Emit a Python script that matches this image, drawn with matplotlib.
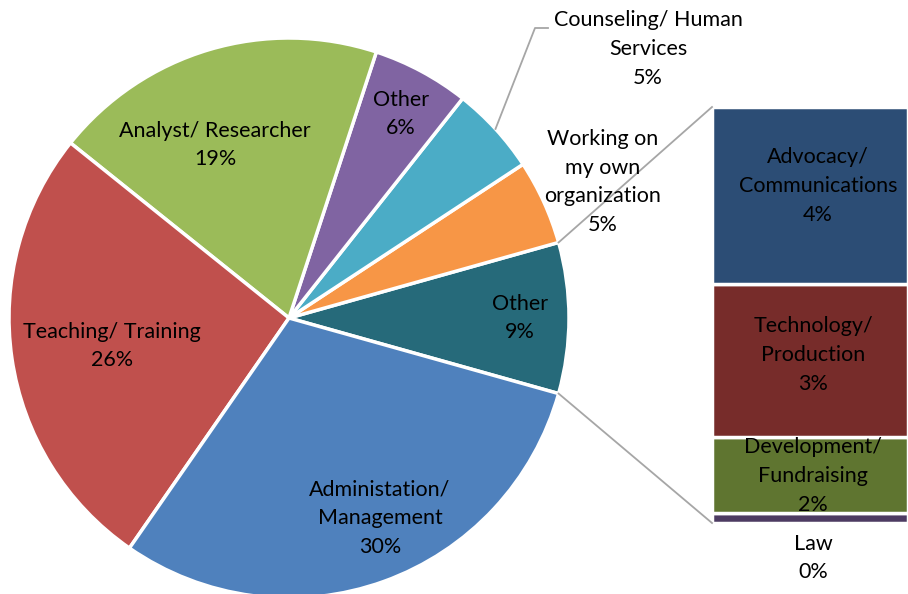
import matplotlib
matplotlib.use("Agg")
import matplotlib.pyplot as plt
import numpy as np

# pie slices, counter-clockwise starting with the aggregated "Other" slice
pie_labels = ["Other", "Working on\nmy own\norganization", "Counseling/ Human\nServices",
              "Other", "Analyst/ Researcher", "Teaching/ Training", "Administation/\nManagement"]
pie_values = [8.7, 4.9, 5.1, 5.6, 19.3, 26.1, 30.3]
pie_colors = ["#266a7a", "#f79646", "#4bacc6", "#8064a2", "#9bbb59", "#c0504d", "#4f81bd"]

# breakdown of the "Other" slice, bottom to top
bar_labels = ["Law", "Development/\nFundraising", "Technology/\nProduction", "Advocacy/\nCommunications"]
bar_values = [0.2, 1.6, 3.2, 3.7]
bar_colors = ["#4d3b62", "#5f7530", "#772c2a", "#2c4d75"]

W, H = 908, 594
cx, cy, R = 289, H - 318, 280

fig = plt.figure(figsize=(W / 100, H / 100), dpi=100)
ax = fig.add_axes([0, 0, 1, 1])
plt.rcParams["font.family"] = ["Lato", "DejaVu Sans"]

start = -pie_values[0] / 100 * 360 / 2
ax.pie(pie_values, colors=pie_colors, startangle=start, counterclock=True,
       radius=R, center=(cx, cy),
       wedgeprops=dict(edgecolor="white", linewidth=2.5))

# bar of pie
bx, bw = 712, 196
btop, bbot = H - 107, H - 523
scale = (btop - bbot) / sum(bar_values)
bottoms = np.concatenate([[0], np.cumsum(bar_values)[:-1]])
ax.bar(bx + bw / 2, np.array(bar_values) * scale, width=bw, bottom=bbot + bottoms * scale,
       color=bar_colors, edgecolor="white", linewidth=2.5)

# connector lines
a = np.deg2rad(start)
ax.plot([cx + R * np.cos(-a), bx], [cy + R * np.sin(-a), btop], color="#a6a6a6", lw=1.3)
ax.plot([cx + R * np.cos(a), bx], [cy + R * np.sin(a), bbot], color="#a6a6a6", lw=1.3)

# leader for Counseling label
mid = np.deg2rad(start + (pie_values[0] + pie_values[1] + pie_values[2] / 2) / 100 * 360)
ax.plot([cx + R * np.cos(mid), 535, 548], [cy + R * np.sin(mid), H - 28, H - 28],
        color="#a6a6a6", lw=1.3)

fs = 15.5
pie_pos = [(520, 318), (603, 182), (648, 49), (401, 114), (215, 145), (112, 346), (380, 518)]
for lab, v, (x, y) in zip(pie_labels, pie_values, pie_pos):
    ax.text(x, H - y, f"{lab}\n{v:.0f}%", ha="center", va="center", fontsize=fs,
            linespacing=1.55, color="black")

bar_pos = [(813, 558), (813, 476), (813, 355), (818, 186)]
for lab, v, (x, y) in zip(bar_labels, bar_values, bar_pos):
    ax.text(x, H - y, f"{lab}\n{v:.0f}%", ha="center", va="center", fontsize=fs,
            linespacing=1.55, color="black")

ax.set_xlim(0, W)
ax.set_ylim(0, H)
ax.set_aspect("auto")
ax.axis("off")
fig.savefig("out.png", dpi=100)
